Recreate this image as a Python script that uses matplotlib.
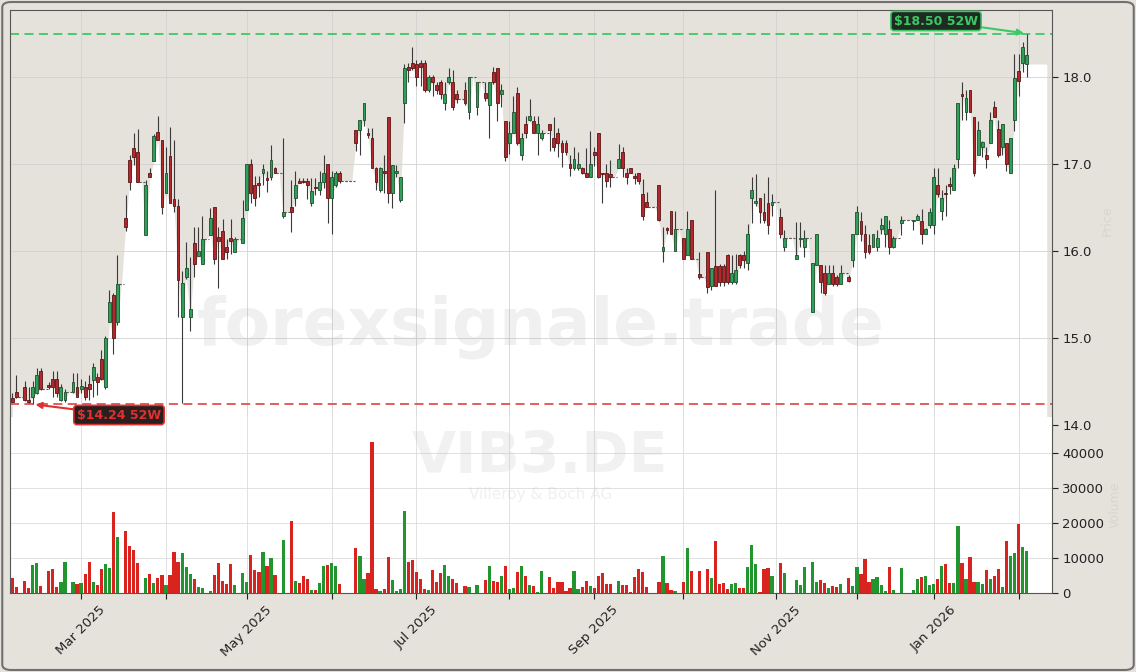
import numpy as np
import pandas as pd
import matplotlib
matplotlib.use("Agg")
import matplotlib.pyplot as plt
from matplotlib.patches import FancyBboxPatch
from matplotlib.text import Annotation

ticker = "VIB3.DE"
company = "Villeroy & Boch AG"
watermark = "forexsignale.trade"

# Xetra trading days, Feb 2025 - Feb 2026
holidays = ["2025-04-18", "2025-04-21", "2025-05-01", "2025-12-24",
            "2025-12-25", "2025-12-26", "2025-12-31", "2026-01-01"]
dates = pd.bdate_range("2025-02-06", "2026-02-04")
dates = dates[~dates.isin(pd.to_datetime(holidays))]

opens = [
    14.31, 14.38, 14.32, 14.44, 14.29, 14.32, 14.37, 14.62, 14.42, 14.46,
    14.53, 14.53, 14.29, 14.29, 14.38, 14.38, 14.44, 14.42, 14.44, 14.47,
    14.52, 14.55, 14.76, 14.44, 15.18, 15.50, 15.18, 15.62, 16.38, 17.05,
    17.18, 17.14, 16.79, 16.18, 16.90, 17.03, 17.37, 17.28, 16.67, 17.09,
    16.60, 16.52, 15.24, 15.70, 15.24, 16.09, 15.94, 15.85, 16.14, 16.18,
    16.51, 16.16, 16.23, 16.05, 16.15, 15.99, 16.14, 16.09, 16.47, 17.00,
    16.76, 16.78, 16.90, 16.84, 16.85, 16.95, 16.90, 16.40, 16.45, 16.51,
    16.61, 16.80, 16.80, 16.80, 16.55, 16.74, 16.70, 16.79, 17.00, 16.61,
    16.76, 16.90, 16.81, 16.81, 16.81, 17.39, 17.39, 17.51, 17.36, 17.30,
    16.95, 16.70, 16.92, 17.54, 16.67, 16.90, 16.59, 17.70, 18.12, 18.16,
    18.15, 18.16, 18.16, 17.85, 18.00, 17.91, 17.94, 17.70, 17.94, 17.94,
    17.80, 17.75, 17.85, 17.60, 18.00, 17.66, 17.94, 17.82, 17.68, 18.06,
    18.10, 17.80, 17.50, 17.24, 17.36, 17.82, 17.10, 17.46, 17.51, 17.50,
    17.36, 17.30, 17.36, 17.46, 17.30, 17.36, 17.24, 17.24, 17.00, 16.95,
    16.95, 16.95, 16.90, 16.85, 17.14, 17.36, 16.90, 16.90, 16.88, 16.85,
    16.95, 17.14, 16.90, 16.95, 16.86, 16.90, 16.66, 16.56, 16.51, 16.51,
    16.76, 16.00, 16.26, 16.46, 16.00, 16.25, 16.15, 15.95, 16.36, 15.91,
    15.74, 15.70, 15.99, 15.60, 15.83, 15.83, 15.83, 15.95, 15.64, 15.64,
    15.95, 15.95, 15.86, 16.61, 16.55, 16.61, 16.45, 16.55, 16.53, 16.56,
    16.39, 16.05, 16.15, 16.15, 15.91, 16.14, 16.05, 16.15, 15.30, 15.84,
    15.84, 15.75, 15.62, 15.75, 15.70, 15.62, 15.75, 15.70, 15.90, 16.20,
    16.34, 16.20, 16.07, 16.05, 16.05, 16.25, 16.20, 16.25, 16.05, 16.15,
    16.32, 16.36, 16.36, 16.34, 16.36, 16.34, 16.20, 16.30, 16.30, 16.76,
    16.46, 16.67, 16.77, 16.70, 17.06, 17.80, 17.60, 17.85, 17.54, 17.10,
    17.20, 17.10, 17.24, 17.66, 17.40, 17.20, 17.24, 16.90, 17.51, 18.07,
    18.16, 18.15]

highs = [
    14.37, 14.57, 14.32, 14.51, 14.44, 14.51, 14.66, 14.66, 14.42, 14.50,
    14.62, 14.62, 14.47, 14.42, 14.38, 14.60, 14.60, 14.53, 14.51, 14.57,
    14.71, 14.60, 14.86, 15.02, 15.55, 15.52, 15.95, 15.62, 16.64, 17.10,
    17.36, 17.40, 16.79, 16.82, 16.95, 17.35, 17.55, 17.28, 17.20, 17.42,
    17.28, 16.60, 15.77, 16.10, 15.93, 16.28, 16.28, 16.40, 16.14, 16.50,
    16.51, 16.28, 16.37, 16.14, 16.37, 16.16, 16.14, 16.59, 17.00, 17.06,
    16.86, 16.86, 17.00, 16.92, 17.22, 16.97, 16.90, 17.30, 16.45, 16.82,
    16.92, 16.84, 16.84, 16.84, 16.84, 16.84, 16.92, 17.10, 17.00, 16.92,
    16.92, 16.92, 16.81, 16.81, 16.81, 17.39, 17.51, 17.70, 17.41, 17.41,
    16.97, 16.97, 17.10, 17.54, 16.99, 16.99, 16.85, 18.15, 18.16, 18.34,
    18.20, 18.20, 18.20, 18.02, 18.02, 17.94, 17.96, 17.94, 18.10, 18.08,
    17.85, 17.75, 17.94, 18.00, 18.00, 17.94, 17.94, 17.94, 17.94, 18.12,
    18.10, 17.92, 17.50, 17.50, 17.78, 17.88, 17.36, 17.55, 17.75, 17.55,
    17.55, 17.39, 17.36, 17.46, 17.54, 17.41, 17.28, 17.28, 17.10, 17.20,
    17.14, 16.97, 17.18, 17.38, 17.20, 17.36, 16.90, 17.00, 17.05, 16.85,
    17.23, 17.20, 16.95, 16.95, 16.90, 16.90, 16.83, 16.68, 16.51, 16.51,
    16.76, 16.28, 16.28, 16.46, 16.46, 16.25, 16.15, 16.46, 16.36, 15.91,
    15.99, 15.70, 15.99, 15.80, 16.70, 15.85, 15.85, 15.97, 15.95, 15.97,
    15.97, 16.00, 16.31, 16.85, 16.88, 16.61, 16.67, 16.85, 16.65, 16.56,
    16.50, 16.24, 16.15, 16.15, 16.33, 16.33, 16.24, 16.15, 15.86, 16.20,
    15.84, 15.84, 15.84, 15.84, 15.72, 15.84, 15.75, 15.72, 16.20, 16.52,
    16.45, 16.30, 16.20, 16.20, 16.24, 16.38, 16.40, 16.36, 16.17, 16.15,
    16.40, 16.36, 16.36, 16.36, 16.42, 16.48, 16.26, 16.50, 16.95, 16.95,
    16.70, 16.76, 16.85, 17.00, 17.70, 17.94, 17.85, 17.85, 17.54, 17.50,
    17.26, 17.20, 17.60, 17.72, 17.51, 17.46, 17.24, 17.30, 18.26, 18.26,
    18.40, 18.50]

lows = [
    14.26, 14.31, 14.32, 14.28, 14.25, 14.24, 14.36, 14.40, 14.42, 14.42,
    14.32, 14.32, 14.28, 14.27, 14.38, 14.37, 14.32, 14.37, 14.29, 14.29,
    14.32, 14.35, 14.52, 14.42, 15.18, 14.82, 15.15, 15.62, 16.23, 16.70,
    16.99, 16.79, 16.79, 16.18, 16.85, 17.03, 17.28, 16.43, 16.67, 16.55,
    16.45, 15.24, 14.25, 15.68, 15.08, 15.70, 15.94, 15.85, 16.14, 16.18,
    15.85, 15.57, 15.91, 15.91, 15.97, 15.99, 16.14, 16.09, 16.47, 16.55,
    16.52, 16.62, 16.76, 16.68, 16.82, 16.90, 16.90, 16.38, 16.45, 16.22,
    16.52, 16.78, 16.78, 16.60, 16.52, 16.64, 16.64, 16.73, 16.32, 16.20,
    16.74, 16.78, 16.81, 16.81, 16.81, 17.15, 17.10, 17.44, 17.30, 16.95,
    16.70, 16.68, 16.67, 16.55, 16.50, 16.85, 16.56, 17.47, 17.94, 18.08,
    17.90, 17.90, 17.83, 17.83, 17.78, 17.80, 17.75, 17.62, 17.92, 17.62,
    17.70, 17.75, 17.68, 17.52, 18.00, 17.56, 17.94, 17.72, 17.30, 17.92,
    17.50, 17.66, 17.04, 17.12, 17.36, 17.22, 17.05, 17.30, 17.50, 17.36,
    17.10, 17.28, 17.36, 17.15, 17.15, 17.08, 16.97, 17.10, 16.86, 16.93,
    16.93, 16.88, 16.85, 16.85, 16.98, 16.84, 16.55, 16.74, 16.74, 16.85,
    16.95, 16.85, 16.77, 16.90, 16.77, 16.77, 16.36, 16.51, 16.51, 16.51,
    16.35, 15.87, 16.20, 16.20, 16.00, 16.25, 15.91, 15.95, 15.91, 15.91,
    15.68, 15.70, 15.52, 15.55, 15.60, 15.60, 15.60, 15.62, 15.62, 15.62,
    15.80, 15.80, 15.78, 16.32, 16.52, 16.32, 16.32, 16.20, 16.40, 16.56,
    16.15, 16.00, 16.15, 16.15, 15.91, 16.05, 15.93, 16.15, 15.30, 15.84,
    15.52, 15.50, 15.62, 15.60, 15.60, 15.62, 15.75, 15.64, 15.82, 16.20,
    16.12, 15.92, 15.97, 16.05, 16.00, 16.20, 16.05, 15.97, 16.03, 16.15,
    16.18, 16.36, 16.36, 16.24, 16.36, 16.08, 16.20, 16.26, 16.20, 16.62,
    16.36, 16.40, 16.66, 16.70, 16.95, 17.51, 17.51, 17.60, 16.86, 17.10,
    17.08, 16.95, 17.24, 17.54, 17.08, 17.10, 16.92, 16.90, 17.38, 17.78,
    18.06, 18.00]

closes = [
    14.27, 14.32, 14.32, 14.29, 14.26, 14.44, 14.57, 14.42, 14.42, 14.44,
    14.44, 14.37, 14.44, 14.38, 14.38, 14.50, 14.32, 14.45, 14.32, 14.42,
    14.67, 14.50, 14.53, 15.00, 15.41, 15.00, 15.62, 15.62, 16.28, 16.79,
    17.08, 16.79, 16.79, 16.76, 16.85, 17.32, 17.28, 16.51, 16.90, 16.55,
    16.52, 15.67, 15.63, 15.80, 15.33, 15.85, 16.00, 16.14, 16.14, 16.38,
    15.91, 16.12, 15.91, 15.99, 16.12, 16.14, 16.14, 16.38, 17.00, 16.67,
    16.61, 16.76, 16.94, 16.82, 17.05, 16.90, 16.90, 16.45, 16.45, 16.45,
    16.76, 16.78, 16.79, 16.76, 16.69, 16.72, 16.79, 16.90, 16.61, 16.85,
    16.90, 16.81, 16.81, 16.81, 16.81, 17.24, 17.51, 17.70, 17.33, 16.95,
    16.79, 16.95, 16.90, 16.67, 16.99, 16.92, 16.85, 18.10, 18.08, 18.10,
    18.00, 18.12, 17.85, 18.00, 17.94, 17.85, 17.80, 17.80, 18.00, 17.66,
    17.75, 17.75, 17.70, 18.00, 18.00, 17.94, 17.94, 17.76, 17.94, 17.94,
    17.70, 17.85, 17.08, 17.36, 17.60, 17.24, 17.30, 17.36, 17.55, 17.36,
    17.46, 17.36, 17.36, 17.39, 17.20, 17.24, 17.14, 17.14, 16.95, 17.06,
    17.00, 16.90, 16.85, 17.00, 17.10, 16.85, 16.88, 16.80, 16.85, 16.85,
    17.06, 16.95, 16.85, 16.90, 16.84, 16.80, 16.40, 16.51, 16.51, 16.51,
    16.36, 16.05, 16.24, 16.20, 16.25, 16.25, 15.91, 16.25, 15.91, 15.91,
    15.70, 15.70, 15.59, 15.80, 15.60, 15.64, 15.64, 15.64, 15.75, 15.78,
    15.84, 15.90, 16.20, 16.70, 16.58, 16.45, 16.36, 16.30, 16.56, 16.56,
    16.20, 16.15, 16.15, 16.15, 15.95, 16.15, 16.15, 16.15, 15.86, 16.20,
    15.64, 15.52, 15.75, 15.62, 15.62, 15.75, 15.75, 15.66, 16.20, 16.45,
    16.20, 15.99, 15.99, 16.20, 16.15, 16.30, 16.40, 16.05, 16.15, 16.15,
    16.36, 16.36, 16.36, 16.36, 16.40, 16.20, 16.25, 16.45, 16.85, 16.66,
    16.61, 16.65, 16.75, 16.95, 17.70, 17.78, 17.76, 17.60, 16.90, 17.39,
    17.25, 17.06, 17.51, 17.54, 17.10, 17.46, 17.00, 17.30, 17.99, 17.95,
    18.34, 18.25]

volumes = [
    4300, 1700, 0, 3400, 1500, 8000, 8600, 2000, 0, 6300,
    6900, 1700, 3100, 8900, 0, 3100, 2600, 2900, 5400, 8900,
    3100, 2300, 6900, 8300, 7200, 23100, 16000, 0, 17700, 13400,
    12300, 8600, 0, 4300, 5400, 2900, 4300, 5100, 2300, 5100,
    11700, 8900, 11400, 7400, 5400, 4000, 1700, 1400, 0, 600,
    5100, 8600, 3400, 2600, 8300, 2300, 0, 5700, 3100, 10900,
    6600, 6000, 11700, 7700, 10000, 5100, 0, 15100, 0, 20600,
    3400, 2900, 4900, 4000, 860, 860, 2900, 7700, 8000, 8600,
    7700, 2600, 0, 0, 0, 12900, 10600, 4000, 5700, 43100,
    1100, 570, 1100, 10300, 3700, 570, 1100, 23400, 8900, 9400,
    6000, 4000, 1100, 860, 6600, 3100, 5700, 8000, 4900, 4000,
    2900, 0, 2000, 1700, 0, 2300, 0, 3700, 7700, 3400,
    3100, 4900, 7700, 1100, 1400, 6000, 7700, 4900, 2300, 2000,
    300, 6300, 0, 4600, 1400, 3100, 3100, 500, 1400, 6300,
    1100, 1700, 3400, 2000, 1400, 4900, 5700, 2600, 2600, 0,
    3400, 2300, 2300, 300, 4600, 6900, 6000, 1700, 0, 0,
    3100, 10600, 2900, 860, 570, 0, 3100, 12900, 6300, 0,
    6300, 0, 6900, 4300, 14900, 2600, 2900, 1100, 2600, 2900,
    1400, 1400, 7400, 13700, 8300, 300, 6900, 7100, 4900, 0,
    8600, 5700, 0, 0, 3700, 2300, 7400, 0, 8900, 3100,
    3700, 2900, 1400, 2000, 1700, 2600, 0, 4300, 2000, 7400,
    5400, 9700, 3100, 4000, 4600, 2300, 570, 7400, 860, 0,
    7100, 0, 0, 860, 4000, 4600, 4900, 2300, 2600, 4000,
    7700, 8300, 2900, 2900, 19100, 8600, 4000, 10300, 3100, 3100,
    2600, 6600, 4000, 4900, 6900, 1700, 14900, 10600, 11400, 19700,
    13100, 12000]

o = np.array(opens)
h = np.array(highs)
l = np.array(lows)
c = np.array(closes)
v = np.array(volumes)
x = np.arange(len(c))
up = c >= o
flat = (v == 0) & (h == l)

BG = "#e5e2dc"
fig = plt.figure(figsize=(11.36, 6.72), dpi=100, facecolor=BG)
ax = fig.add_axes([0.0088, 0.3571, 0.9173, 0.628])
axv = fig.add_axes([0.0088, 0.1176, 0.9173, 0.2619])

# month ticks on first trading day of each month
month_key = dates.to_period("M")
first_idx = [i for i in range(1, len(dates)) if month_key[i] != month_key[i - 1]]
month_labels = [dates[i].strftime("%b %Y") if dates[i].month % 2 == 1 else "" for i in first_idx]

# ---- price panel
ax.set_facecolor(BG)
ax.set_xlim(-0.6, 257.3)
ax.set_ylim(13.92, 18.77)
base = np.minimum(o, c)
xf = np.r_[x, x[-1] + 5]
yf = np.r_[base, base[-1]]
ax.fill_between(xf, yf, 13.5, color="white", lw=0, zorder=0.2)
ax.grid(True, color="#d2d2d2", lw=0.6)
ax.set_axisbelow(True)

ax.text(0.509, 0.25, watermark, transform=ax.transAxes, ha="center", va="center",
        fontsize=47.5, fontweight="bold", color="#b5b5b5", alpha=0.2, zorder=0.8)

ax.vlines(x[~flat], l[~flat], h[~flat], color="#3a3a3a", lw=0.8, zorder=2)
nf = ~flat
body_c = np.where(up, "#2fa05a", "#b3282d")
edge_c = np.where(up, "#1d4f2c", "#5a1414")
ax.bar(x[nf], np.maximum(np.abs(c - o), 0.012)[nf], bottom=base[nf], width=0.7,
       color=body_c[nf], edgecolor=edge_c[nf], linewidth=0.6, zorder=3)
ax.hlines(c[flat], x[flat] - 0.7, x[flat] + 0.7, colors="#555555", lw=0.8,
          linestyles=(0, (2, 1.5)), zorder=3)

hi_i, lo_i = int(np.argmax(h)), int(np.argmin(l))
ax.axhline(h[hi_i], color="#3cc864", ls=(0, (5, 3)), lw=1.3, zorder=1.5)
ax.axhline(l[lo_i], color="#e05050", ls=(0, (5, 3)), lw=1.3, zorder=1.5)

ax.yaxis.tick_right()
ax.set_yticks([14, 15, 16, 17, 18])
ax.yaxis.set_major_formatter(plt.FormatStrFormatter("%.1f"))
ax.set_xticks(first_idx)
ax.tick_params(axis="x", length=0, labelbottom=False)
ax.tick_params(axis="y", labelsize=9.5, colors="#222222", length=4)
ax.yaxis.set_label_position("right")
ax.set_ylabel("Price", color="#d9d6d0", fontsize=9, labelpad=6)
for s in ax.spines.values():
    s.set_color("#555555")
ax.spines["bottom"].set_visible(False)

# ---- volume panel
axv.set_facecolor("white")
axv.set_xlim(ax.get_xlim())
axv.set_ylim(0, 50300)
axv.bar(x, v, width=0.8, color=np.where(up, "#22962e", "#d9231f"), lw=0, zorder=2)
axv.grid(True, color="#dcdcdc", lw=0.6)
axv.set_axisbelow(True)
axv.text(0.509, 0.77, ticker, transform=axv.transAxes, ha="center", va="center",
         fontsize=41, fontweight="bold", color="#b5b5b5", alpha=0.18, zorder=0.8)
axv.text(0.509, 0.56, company, transform=axv.transAxes, ha="center", va="center",
         fontsize=11, color="#b5b5b5", alpha=0.2, zorder=0.8)
axv.yaxis.tick_right()
axv.set_yticks([0, 10000, 20000, 30000, 40000])
axv.set_xticks(first_idx)
axv.set_xticklabels(month_labels, rotation=45, ha="center")
axv.tick_params(axis="both", labelsize=9.5, colors="#222222", length=4)
axv.yaxis.set_label_position("right")
axv.set_ylabel("Volume", color="#d9d6d0", fontsize=9, labelpad=3)
for s in axv.spines.values():
    s.set_color("#555555")
axv.spines["top"].set_visible(False)

# ---- 52 week labels
hi_ann = Annotation(f"${h[hi_i]:.2f} 52W", xy=(hi_i, h[hi_i]), xycoords=ax.transData,
                    xytext=(936, 651), textcoords="figure pixels",
                    ha="center", va="center", fontsize=9, fontweight="bold", color="#3cc864",
                    bbox=dict(boxstyle="round,pad=0.25", fc="#1f2a22", ec="#3cc864", lw=1.2),
                    arrowprops=dict(arrowstyle="-|>", color="#3cc864", lw=1.5,
                                    shrinkA=0, shrinkB=2))
lo_ann = Annotation(f"${l[lo_i]:.2f} 52W", xy=(lo_i, l[lo_i]), xycoords=ax.transData,
                    xytext=(119, 257), textcoords="figure pixels",
                    ha="center", va="center", fontsize=9, fontweight="bold", color="#e03030",
                    bbox=dict(boxstyle="round,pad=0.25", fc="#2a1f1f", ec="#e03030", lw=1.2),
                    arrowprops=dict(arrowstyle="-|>", color="#e03030", lw=1.5,
                                    shrinkA=0, shrinkB=2))
fig.add_artist(hi_ann)
fig.add_artist(lo_ann)

fig.add_artist(FancyBboxPatch((0.002, 0.003), 0.996, 0.994, transform=fig.transFigure,
                              boxstyle="round,pad=0,rounding_size=0.008",
                              fc="none", ec="#707070", lw=1.5))

fig.savefig("out.png", dpi=100, facecolor=BG)
